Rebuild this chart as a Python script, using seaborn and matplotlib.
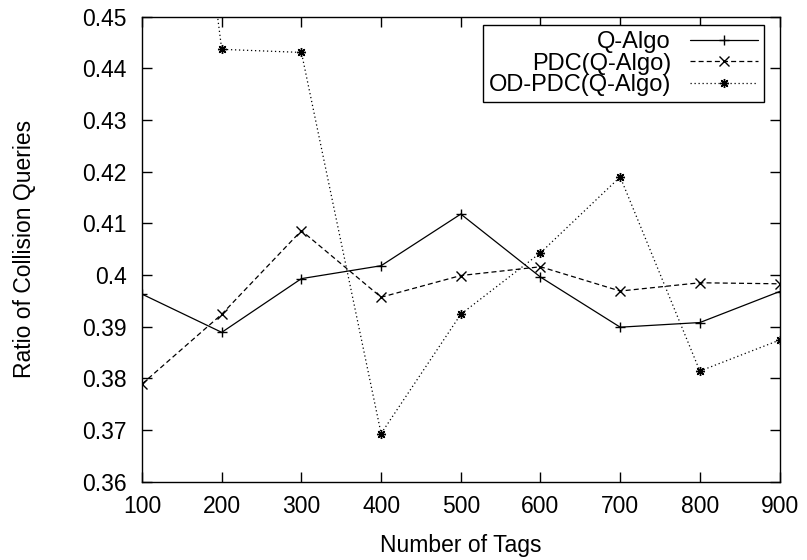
import pandas as pd
import matplotlib
matplotlib.use("Agg")
import matplotlib.pyplot as plt
from matplotlib.ticker import FuncFormatter
import seaborn as sns

# values
tags = [100, 200, 300, 400, 500, 600, 700, 800, 900]
q_algo = [0.3963, 0.3889, 0.3993, 0.4018, 0.4118, 0.3996, 0.3899, 0.3908, 0.3968]
pdc_q_algo = [0.3789, 0.3924, 0.4086, 0.3957, 0.3999, 0.4016, 0.3969, 0.3985, 0.3983]
od_pdc_q_algo = [0.565, 0.4437, 0.4431, 0.3693, 0.3924, 0.4043, 0.4190, 0.3814, 0.3874]

series_names = ["Q-Algo", "PDC(Q-Algo)", "OD-PDC(Q-Algo)"]
series_values = [q_algo, pdc_q_algo, od_pdc_q_algo]

sns.set_theme(style="ticks")
plt.rcParams["font.family"] = ["Liberation Sans", "DejaVu Sans"]
plt.rcParams["axes.linewidth"] = 1.0
plt.rcParams["text.color"] = "black"
plt.rcParams["axes.labelcolor"] = "black"

fig = plt.figure(figsize=(8.07, 5.6), dpi=100)
ax = fig.add_axes([0.176, 0.140, 0.790, 0.830])

line_styles = {
    "Q-Algo": dict(linestyle="-", marker="+"),
    "PDC(Q-Algo)": dict(linestyle=(0, (4, 2.5)), marker="x"),
    "OD-PDC(Q-Algo)": dict(linestyle=(0, (1, 2.2)), marker=(8, 2, 0)),
}

for name, vals in zip(series_names, series_values):
    df = pd.DataFrame({"Number of Tags": tags, "Ratio": vals})
    sty = line_styles[name]
    sns.lineplot(data=df, x="Number of Tags", y="Ratio", ax=ax, color="black",
                 linewidth=0.9, linestyle=sty["linestyle"], marker=sty["marker"],
                 markersize=6.5, markeredgewidth=1.0, markeredgecolor="black",
                 label=name)

ax.set_xlim(100, 900)
ax.set_ylim(0.36, 0.45)
ax.set_xticks(tags)
ax.set_yticks([0.36, 0.37, 0.38, 0.39, 0.40, 0.41, 0.42, 0.43, 0.44, 0.45])
ax.yaxis.set_major_formatter(FuncFormatter(lambda v, p: "%g" % round(v, 2)))

ax.tick_params(direction="in", length=7, width=1, top=True, right=True,
               labelsize=16.5, colors="black")
ax.tick_params(axis="y", pad=11)
ax.tick_params(axis="x", pad=10)
for s in ax.spines.values():
    s.set_color("black")
    s.set_visible(True)

ax.set_xlabel("Number of Tags", fontsize=16.5, labelpad=11)
ax.set_ylabel("Ratio of Collision Queries", fontsize=16.5, labelpad=33)

leg = ax.legend(loc="upper right", bbox_to_anchor=(0.976, 0.982), fontsize=17,
                markerfirst=False, frameon=True, fancybox=False, shadow=False,
                handlelength=2.9, handletextpad=0.8, borderpad=0.25,
                labelspacing=-0.02, borderaxespad=0)
leg.get_frame().set_edgecolor("black")
leg.get_frame().set_linewidth(1.0)
leg.get_frame().set_alpha(1)
for t in leg.get_texts():
    t.set_ha("right")
leg._legend_box.align = "right"

fig.savefig("out.png", dpi=100)
